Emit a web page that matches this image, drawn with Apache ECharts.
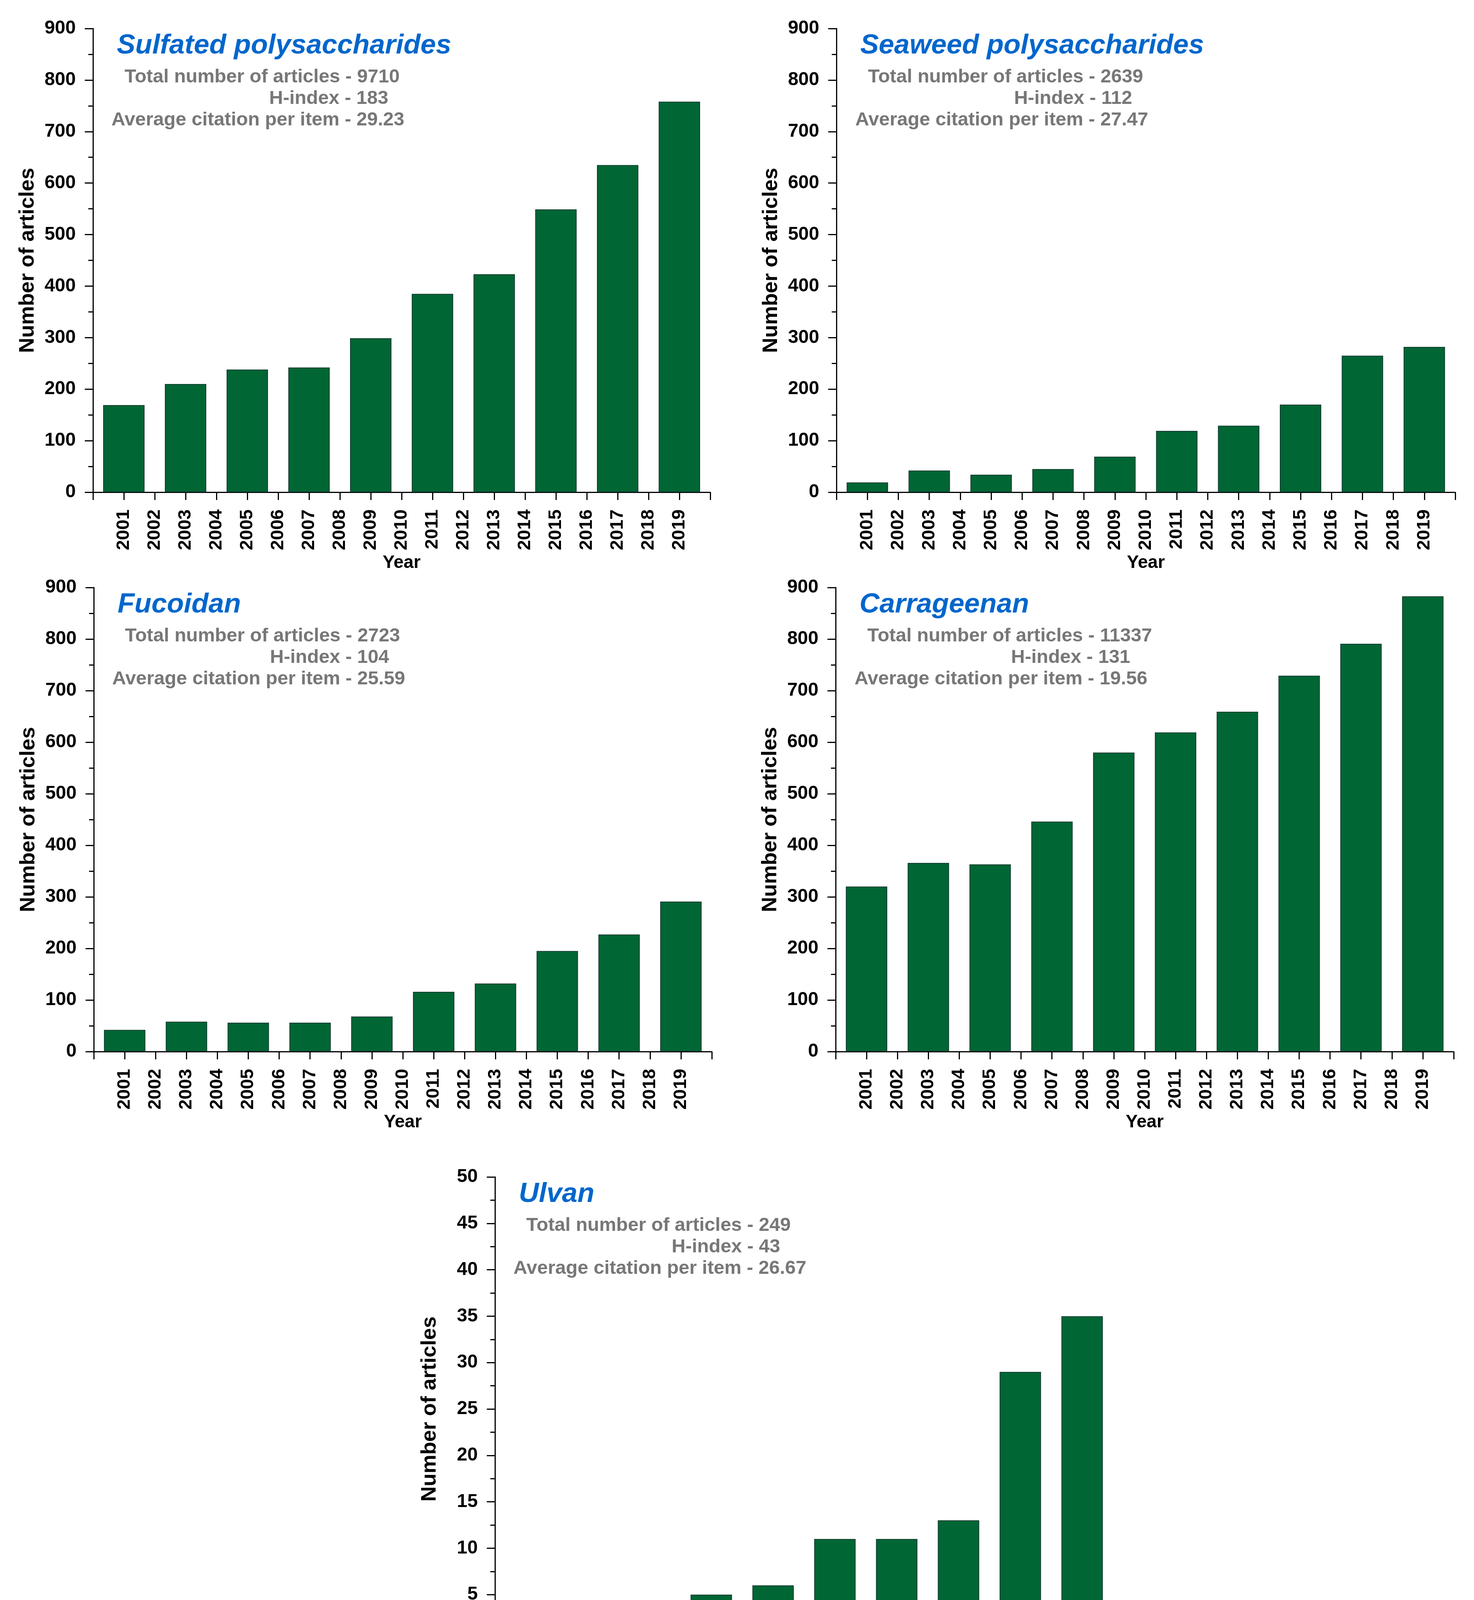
<!DOCTYPE html>
<html>
<head>
<meta charset="utf-8">
<script src="https://cdn.jsdelivr.net/npm/echarts@6.0.0/dist/echarts.min.js"></script>
<style>
  html, body { margin: 0; padding: 0; background: #fff; }
  #chart { width: 3773px; height: 4450px; }
</style>
</head>
<body>
<div id="chart"></div>
<script>
// years that have a bar
var years = [2001, 2003, 2005, 2007, 2009, 2011, 2013, 2015, 2017, 2019];
// tick labels run 2001..2019 on an axis from 2000 to 2020
var yearMin = 2000, yearMax = 2020;

var sulfated    = [169, 210, 238, 242, 299, 385, 423, 549, 635, 758];
var seaweed     = [19, 42, 34, 45, 69, 119, 129, 170, 265, 282];
var fucoidan    = [42, 58, 56, 56, 68, 116, 132, 195, 227, 291];
var carrageenan = [320, 366, 363, 446, 580, 619, 659, 729, 791, 883];
var ulvan       = [0, 2, 2, 5, 6, 11, 11, 13, 29, 35];

var titles   = ['Sulfated polysaccharides', 'Seaweed polysaccharides', 'Fucoidan', 'Carrageenan', 'Ulvan'];
var totals   = [9710, 2639, 2723, 11337, 249];
var hIndex   = [183, 112, 104, 131, 43];
var avgCite  = ['29.23', '27.47', '25.59', '19.56', '26.67'];
var yMax     = [900, 900, 900, 900, 50];
var yStep    = [100, 100, 100, 100, 5];
var seriesData = [sulfated, seaweed, fucoidan, carrageenan, ulvan];

// panel boxes: left, top, width, height (px)
var boxes = [
  [238, 73, 1580, 1187],
  [2141, 73, 1584, 1187],
  [240, 1504, 1582, 1188],
  [2139, 1504, 1582, 1188],
  [1267, 3013, 1582, 1188]
];
// right edges of the three stats lines, relative to the y axis
var statRight = [
  [785, 756, 797],
  [785, 757, 798],
  [784, 756, 797],
  [810, 754, 798],
  [757, 730, 797]
];

var FONT = '"Liberation Sans", Arial, Helvetica, sans-serif';

var dom = document.getElementById('chart');
var myChart = echarts.init(dom, null, { renderer: 'canvas' });

var grids = [], xAxes = [], yAxes = [], series = [], graphics = [];

boxes.forEach(function (b, i) {
  grids.push({
    left: b[0], top: b[1], width: b[2], height: b[3],
    containLabel: false, outerBoundsMode: 'none'
  });
  xAxes.push({
    type: 'value',
    gridIndex: i,
    min: yearMin, max: yearMax, interval: 1,
    name: 'Year',
    nameLocation: 'middle',
    nameGap: 158,
    nameTextStyle: { fontFamily: FONT, fontWeight: 'bold', fontSize: 46, color: '#000' },
    axisLine: { show: true, onZero: false, lineStyle: { color: '#000', width: 3 } },
    axisTick: { show: true, inside: false, length: 20, lineStyle: { color: '#000', width: 3 } },
    splitLine: { show: false },
    axisLabel: {
      rotate: 90,
      margin: 44,
      fontFamily: FONT, fontWeight: 'bold', fontSize: 47, color: '#000',
      showMinLabel: true, showMaxLabel: true,
      formatter: function (v) {
        return (v > yearMin && v < yearMax) ? String(v) : '';
      }
    }
  });
  yAxes.push({
    type: 'value',
    gridIndex: i,
    min: 0, max: yMax[i], interval: yStep[i],
    name: 'Number of articles',
    nameLocation: 'middle',
    nameGap: 140,
    nameTextStyle: { fontFamily: FONT, fontWeight: 'bold', fontSize: 54, color: '#000' },
    axisLine: { show: true, lineStyle: { color: '#000', width: 3 } },
    axisTick: { show: true, inside: false, length: 21, lineStyle: { color: '#000', width: 3 } },
    minorTick: { show: true, splitNumber: 2, length: 12, lineStyle: { color: '#000', width: 3 } },
    splitLine: { show: false },
    axisLabel: {
      margin: 44,
      fontFamily: FONT, fontWeight: 'bold', fontSize: 48, color: '#000'
    }
  });
  series.push({
    type: 'bar',
    xAxisIndex: i, yAxisIndex: i,
    barWidth: 106,
    data: years.map(function (y, k) { return [y, seriesData[i][k]]; }),
    itemStyle: { color: '#006633', borderColor: '#123d33', borderWidth: 2 },
    silent: true
  });

  // title and stats block
  graphics.push({
    type: 'text', x: b[0] + 61, y: b[1] + 44,
    style: {
      text: titles[i], fill: '#0066cc',
      font: 'italic bold 71px ' + FONT,
      align: 'left', verticalAlign: 'middle'
    }
  });
  var lines = [
    'Total number of articles - ' + totals[i],
    'H-index - ' + hIndex[i],
    'Average citation per item - ' + avgCite[i]
  ];
  lines.forEach(function (t, k) {
    graphics.push({
      type: 'text', x: b[0] + statRight[i][k], y: b[1] + 124 + k * 55,
      style: {
        text: t, fill: '#777777',
        font: 'bold 49px ' + FONT,
        align: 'right', verticalAlign: 'middle'
      }
    });
  });
});

var option = {
  backgroundColor: '#ffffff',
  animation: false,
  grid: grids,
  xAxis: xAxes,
  yAxis: yAxes,
  series: series,
  graphic: graphics
};
myChart.setOption(option);
</script>
</body>
</html>
